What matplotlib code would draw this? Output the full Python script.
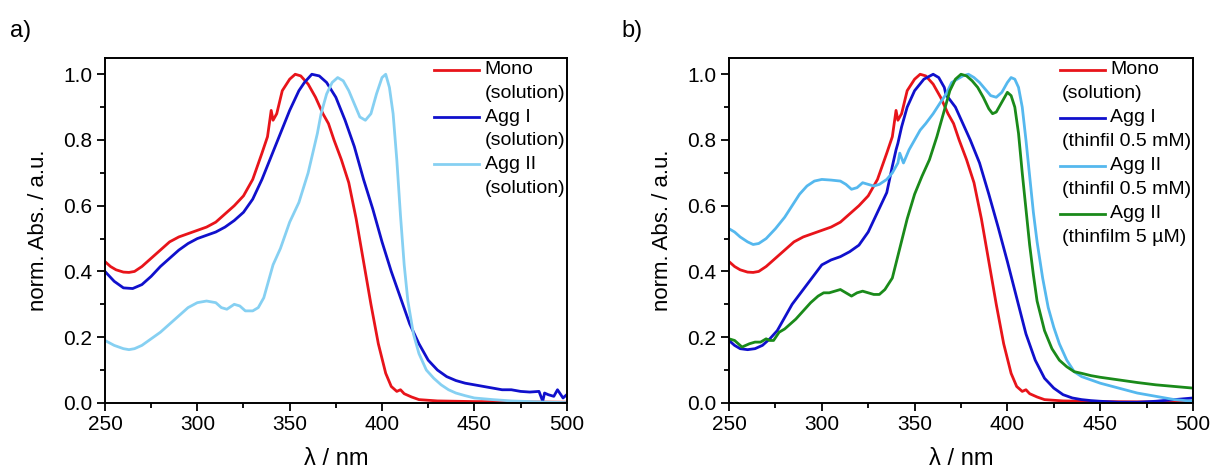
import numpy as np
import matplotlib
matplotlib.use("Agg")
import matplotlib.pyplot as plt
from matplotlib.ticker import MultipleLocator

plt.rcParams['font.family'] = ['Liberation Sans', 'DejaVu Sans']

# ---- panel a) solution spectra ----
wl_mono = [250, 253, 256, 260, 263, 266, 270, 275, 280, 285, 290, 295, 300, 305, 310, 315,
           320, 325, 330, 335, 338, 340, 341, 343, 346, 350, 353, 356, 360, 364, 368, 370,
           371, 374, 378, 382, 386, 390, 394, 398, 402, 405, 408, 410, 412, 416, 420, 430,
           450, 475, 500]
mono = [0.43, 0.415, 0.405, 0.398, 0.397, 0.40, 0.415, 0.44, 0.465, 0.49, 0.505, 0.515, 0.525,
        0.535, 0.55, 0.575, 0.60, 0.63, 0.68, 0.76, 0.81, 0.89, 0.86, 0.88, 0.95, 0.985, 1.0,
        0.995, 0.97, 0.93, 0.88, 0.86, 0.85, 0.80, 0.74, 0.67, 0.56, 0.43, 0.30, 0.18, 0.09,
        0.05, 0.035, 0.04, 0.028, 0.018, 0.01, 0.006, 0.004, 0.003, 0.002]

wl_agg1_sol = [250, 255, 260, 265, 270, 275, 280, 285, 290, 295, 300, 305, 310, 315, 320, 325,
               330, 335, 340, 345, 350, 355, 358, 362, 366, 370, 375, 380, 385, 390, 395, 400,
               405, 410, 415, 420, 425, 430, 435, 440, 445, 450, 455, 460, 465, 470, 475, 480,
               485, 487, 488, 490, 493, 495, 498, 500]
agg1_sol = [0.40, 0.37, 0.35, 0.348, 0.36, 0.385, 0.415, 0.44, 0.465, 0.485, 0.50, 0.51, 0.52,
            0.535, 0.555, 0.58, 0.62, 0.68, 0.75, 0.82, 0.89, 0.95, 0.975, 1.0, 0.995, 0.975,
            0.93, 0.86, 0.78, 0.68, 0.59, 0.49, 0.40, 0.32, 0.24, 0.18, 0.13, 0.10, 0.08, 0.068,
            0.06, 0.055, 0.05, 0.045, 0.04, 0.04, 0.035, 0.033, 0.035, 0.005, 0.03, 0.025, 0.02,
            0.04, 0.015, 0.025]

wl_agg2_sol = [250, 255, 260, 263, 266, 270, 275, 280, 285, 290, 295, 300, 305, 310, 313, 316,
               320, 323, 326, 330, 333, 336, 338, 340, 341, 345, 350, 355, 360, 365, 367, 370,
               373, 376, 379, 382, 385, 388, 391, 394, 397, 400, 402, 404, 406, 408, 410, 412,
               414, 417, 420, 424, 428, 432, 436, 440, 445, 450, 460, 470, 480, 490, 500]
agg2_sol = [0.19, 0.175, 0.165, 0.162, 0.165, 0.175, 0.195, 0.215, 0.24, 0.265, 0.29, 0.305,
            0.31, 0.305, 0.29, 0.285, 0.30, 0.295, 0.28, 0.28, 0.29, 0.32, 0.36, 0.40, 0.42,
            0.47, 0.55, 0.61, 0.70, 0.82, 0.88, 0.94, 0.975, 0.99, 0.98, 0.95, 0.91, 0.87, 0.86,
            0.88, 0.94, 0.99, 1.0, 0.96, 0.88, 0.74, 0.57, 0.42, 0.31, 0.21, 0.15, 0.10, 0.075,
            0.055, 0.04, 0.03, 0.022, 0.015, 0.01, 0.006, 0.004, 0.002, 0.001]

# ---- panel b) thin films ----
wl_agg1_tf = [250, 253, 256, 260, 264, 268, 272, 276, 280, 284, 288, 292, 296, 300, 305, 310,
              315, 320, 325, 330, 335, 338, 340, 341, 343, 346, 350, 355, 360, 363, 366, 367,
              368, 372, 376, 380, 385, 390, 395, 400, 405, 410, 415, 420, 425, 430, 435, 440,
              445, 450, 460, 470, 480, 490, 500]
agg1_tf = [0.19, 0.175, 0.165, 0.162, 0.165, 0.175, 0.195, 0.22, 0.26, 0.30, 0.33, 0.36, 0.39,
           0.42, 0.435, 0.445, 0.46, 0.48, 0.52, 0.58, 0.64, 0.72, 0.77, 0.79, 0.84, 0.90, 0.95,
           0.985, 1.0, 0.99, 0.96, 0.935, 0.93, 0.90, 0.85, 0.80, 0.73, 0.635, 0.535, 0.43,
           0.32, 0.21, 0.13, 0.075, 0.045, 0.025, 0.015, 0.01, 0.007, 0.005, 0.002, 0.002,
           0.005, 0.01, 0.015]

wl_agg2_tf = [250, 253, 256, 260, 263, 266, 270, 275, 280, 284, 288, 292, 296, 300, 305, 310,
              313, 316, 319, 322, 325, 328, 331, 335, 338, 341, 342, 344, 347, 350, 353, 356,
              360, 364, 367, 370, 373, 376, 379, 382, 385, 388, 391, 394, 397, 400, 402, 404,
              406, 408, 410, 412, 414, 416, 419, 422, 425, 428, 432, 436, 440, 445, 450, 460,
              470, 480, 490, 500]
agg2_tf = [0.53, 0.52, 0.505, 0.49, 0.482, 0.485, 0.50, 0.53, 0.565, 0.60, 0.635, 0.66, 0.675,
           0.68, 0.678, 0.675, 0.665, 0.65, 0.655, 0.67, 0.665, 0.66, 0.665, 0.68, 0.70, 0.73,
           0.76, 0.73, 0.77, 0.80, 0.83, 0.85, 0.88, 0.915, 0.94, 0.975, 0.985, 0.995, 1.0,
           0.99, 0.975, 0.955, 0.935, 0.93, 0.945, 0.975, 0.99, 0.985, 0.96, 0.90, 0.80, 0.69,
           0.58, 0.49, 0.38, 0.29, 0.23, 0.18, 0.13, 0.095, 0.08, 0.07, 0.06, 0.045, 0.03,
           0.02, 0.01, 0.005]

wl_agg2_5uM = [250, 253, 255, 257, 259, 261, 264, 267, 270, 272, 274, 277, 280, 283, 286, 290,
               294, 298, 301, 304, 307, 310, 313, 316, 319, 322, 325, 328, 331, 334, 338, 342,
               346, 350, 354, 358, 362, 366, 369, 372, 375, 378, 381, 384, 387, 390, 392, 394,
               397, 400, 402, 404, 406, 408, 410, 412, 414, 416, 420, 424, 428, 432, 436, 440,
               445, 450, 460, 470, 480, 490, 500]
agg2_5uM = [0.195, 0.19, 0.18, 0.17, 0.175, 0.18, 0.185, 0.185, 0.195, 0.19, 0.19, 0.215, 0.225,
            0.24, 0.255, 0.28, 0.305, 0.325, 0.335, 0.335, 0.34, 0.345, 0.335, 0.325, 0.335,
            0.34, 0.335, 0.33, 0.33, 0.345, 0.38, 0.47, 0.56, 0.635, 0.69, 0.74, 0.81, 0.89,
            0.95, 0.985, 1.0, 0.995, 0.98, 0.96, 0.93, 0.895, 0.88, 0.885, 0.915, 0.945, 0.935,
            0.90, 0.82, 0.70, 0.59, 0.48, 0.39, 0.31, 0.22, 0.165, 0.13, 0.11, 0.095, 0.09,
            0.083, 0.078, 0.07, 0.062, 0.055, 0.05, 0.045]

RED = "#e8141a"
BLUE = "#1010cc"
LBLUE_A = "#86d0f2"
LBLUE_B = "#55b8ee"
GREEN = "#1a8a1a"


def style_axes(ax):
    ax.set_xlim(250, 500)
    ax.set_ylim(0, 1.05)
    ax.xaxis.set_major_locator(MultipleLocator(50))
    ax.xaxis.set_minor_locator(MultipleLocator(25))
    ax.yaxis.set_major_locator(MultipleLocator(0.2))
    ax.yaxis.set_minor_locator(MultipleLocator(0.1))
    ax.yaxis.set_major_formatter(matplotlib.ticker.FormatStrFormatter("%.1f"))
    ax.tick_params(which="both", direction="out", top=False, right=False,
                   width=1.3, labelsize=15)
    ax.tick_params(which="major", length=6, pad=3)
    ax.tick_params(which="minor", length=3.5)
    for sp in ax.spines.values():
        sp.set_linewidth(1.4)
    ax.set_xlabel("λ / nm", fontsize=17, labelpad=10)
    ax.set_ylabel("norm. Abs. / a.u.", fontsize=16, labelpad=10)


def legend_entry(ax, y, color, first, second, x_second):
    ax.plot([0.713, 0.811], [y, y], color=color, lw=2.0, transform=ax.transAxes,
            clip_on=False)
    ax.text(0.822, y, first, transform=ax.transAxes, fontsize=14, va="center", ha="left")
    ax.text(x_second, y - 0.069, second, transform=ax.transAxes, fontsize=14,
            va="center", ha="left")


fig = plt.figure(figsize=(12.12, 4.74), dpi=100)
ax1 = fig.add_axes([0.0866, 0.150, 0.381, 0.728])
ax2 = fig.add_axes([0.6015, 0.150, 0.3828, 0.728])

lw = 2.0
ax1.plot(wl_mono, mono, color=RED, lw=lw)
ax1.plot(wl_agg1_sol, agg1_sol, color=BLUE, lw=lw)
ax1.plot(wl_agg2_sol, agg2_sol, color=LBLUE_A, lw=lw)
style_axes(ax1)
step = 0.137
legend_entry(ax1, 0.965, RED, "Mono", "(solution)", 0.822)
legend_entry(ax1, 0.965 - step, BLUE, "Agg I", "(solution)", 0.822)
legend_entry(ax1, 0.965 - 2 * step, LBLUE_A, "Agg II", "(solution)", 0.822)

ax2.plot(wl_mono, mono, color=RED, lw=lw)
ax2.plot(wl_agg1_tf, agg1_tf, color=BLUE, lw=lw)
ax2.plot(wl_agg2_tf, agg2_tf, color=LBLUE_B, lw=lw)
ax2.plot(wl_agg2_5uM, agg2_5uM, color=GREEN, lw=lw)
style_axes(ax2)
step = 0.139
legend_entry(ax2, 0.965, RED, "Mono", "(solution)", 0.718)
legend_entry(ax2, 0.965 - step, BLUE, "Agg I", "(thinfil 0.5 mM)", 0.718)
legend_entry(ax2, 0.965 - 2 * step, LBLUE_B, "Agg II", "(thinfil 0.5 mM)", 0.718)
legend_entry(ax2, 0.965 - 3 * step, GREEN, "Agg II", "(thinfilm 5 µM)", 0.718)

fig.text(0.008, 0.935, "a)", fontsize=17, va="center")
fig.text(0.513, 0.935, "b)", fontsize=17, va="center")

fig.savefig("out.png", dpi=100)
